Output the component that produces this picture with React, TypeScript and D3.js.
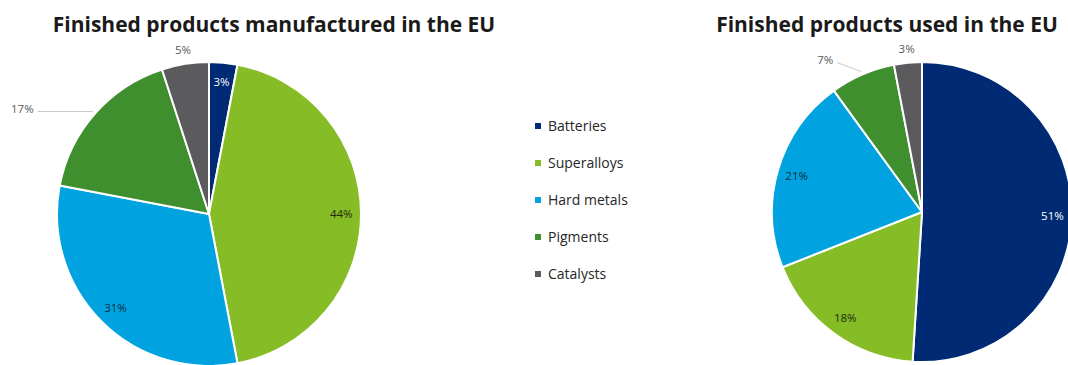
import React from "react";
import * as d3 from "d3";

const categories = ["Batteries", "Superalloys", "Hard metals", "Pigments", "Catalysts"];
const manufacturedValues = [3, 44, 31, 17, 5];
const usedValues = [51, 18, 21, 7, 3];
const titles = ["Finished products manufactured in the EU", "Finished products used in the EU"];

const colors = ["#012a74", "#86bc25", "#00a3e0", "#3f8f2f", "#5b5b5e"];
const labelColors = ["#ffffff", "#1f2a10", "#0d2a40", "#ffffff", "#ffffff"];

type LabelMode = { kind: "in" } | { kind: "out" } | { kind: "leader"; dx: number; dy: number };

interface PieCfg {
  values: number[];
  title: string;
  cx: number;
  cy: number;
  r: number;
  titleX: number;
  modes: LabelMode[];
}

const W = 1068;
const H = 365;
const FONT = "'Open Sans', Lato, sans-serif";

const charts: PieCfg[] = [
  {
    values: manufacturedValues,
    title: titles[0],
    cx: 209,
    cy: 214,
    r: 152,
    titleX: 274,
    modes: [{ kind: "in" }, { kind: "in" }, { kind: "in" }, { kind: "leader", dx: -59, dy: 0 }, { kind: "out" }],
  },
  {
    values: usedValues,
    title: titles[1],
    cx: 922,
    cy: 212,
    r: 150,
    titleX: 887,
    modes: [{ kind: "in" }, { kind: "in" }, { kind: "in" }, { kind: "leader", dx: -28, dy: -9 }, { kind: "out" }],
  },
];

function Pie({ cfg }: { cfg: PieCfg }) {
  const pie = d3.pie<number>().sort(null).value((d) => d);
  const arcs = pie(cfg.values);
  const arc = d3.arc<d3.PieArcDatum<number>>().innerRadius(0).outerRadius(cfg.r);
  const fmt = (v: number) => `${v}%`;
  return (
    <g>
      <text x={cfg.titleX} y={32} textAnchor="middle" fontFamily={FONT} fontWeight={700} fontSize={21} fill="#1a1a1a">
        {cfg.title}
      </text>
      <g transform={`translate(${cfg.cx},${cfg.cy})`}>
        {arcs.map((a, i) => (
          <path key={i} d={arc(a) || ""} fill={colors[i]} stroke="#ffffff" strokeWidth={2} strokeLinejoin="round" />
        ))}
        {arcs.map((a, i) => {
          const mid = (a.startAngle + a.endAngle) / 2;
          const mode = cfg.modes[i];
          const pt = (rr: number) => [Math.sin(mid) * rr, -Math.cos(mid) * rr];
          if (mode.kind === "in") {
            const [x, y] = pt(cfg.r * 0.87);
            return (
              <text key={i} x={x} y={y} dy="0.35em" textAnchor="middle" fontSize={11.5} fontFamily={FONT} fill={labelColors[i]}>
                {fmt(cfg.values[i])}
              </text>
            );
          }
          if (mode.kind === "out") {
            const [x, y] = pt(cfg.r * 1.09);
            return (
              <text key={i} x={x} y={y} dy="0.35em" textAnchor="middle" fontSize={11.5} fontFamily={FONT} fill="#595959">
                {fmt(cfg.values[i])}
              </text>
            );
          }
          const [ex, ey] = pt(cfg.r * 1.02);
          const lx = ex + mode.dx;
          const ly = ey + mode.dy;
          return (
            <g key={i}>
              <line x1={lx + 4} y1={ly} x2={ex} y2={ey} stroke="#c8c8c8" strokeWidth={1} />
              <text x={lx} y={ly - 3} dy="0.35em" textAnchor="end" fontSize={11.5} fontFamily={FONT} fill="#595959">
                {fmt(cfg.values[i])}
              </text>
            </g>
          );
        })}
      </g>
    </g>
  );
}

export default function App() {
  const legendX = 535;
  const legendY0 = 126;
  const legendStep = 37;
  return (
    <svg width={W} height={H} style={{ position: "absolute", left: 0, top: 0, background: "#ffffff" }}>
      <rect width={W} height={H} fill="#ffffff" />
      {charts.map((c, i) => (
        <Pie key={i} cfg={c} />
      ))}
      <g>
        {categories.map((c, i) => (
          <g key={c} transform={`translate(${legendX},${legendY0 + i * legendStep})`}>
            <rect x={0} y={-3} width={6} height={6} fill={colors[i]} />
            <text x={13} y={0} dy="0.35em" fontSize={14} fontFamily={FONT} fill="#262626">
              {c}
            </text>
          </g>
        ))}
      </g>
    </svg>
  );
}
